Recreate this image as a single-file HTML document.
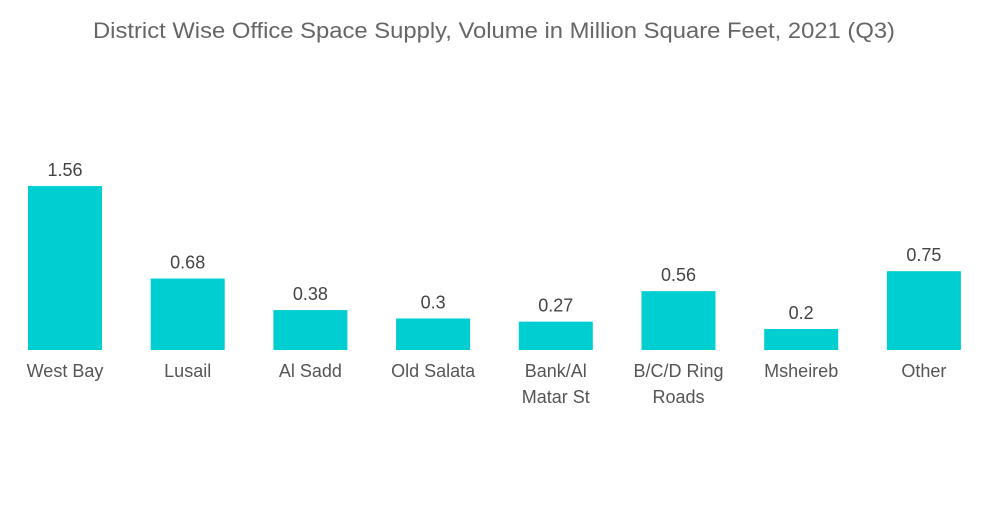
<!DOCTYPE html>
<html><head><meta charset="utf-8"><style>
body{margin:0;background:#fff;width:1000px;height:504px;overflow:hidden;font-family:"Liberation Sans",sans-serif}
</style></head><body>
<svg id="chart" width="1000" height="504" xmlns="http://www.w3.org/2000/svg">
<text x="494" y="38" text-anchor="middle" font-size="22" textLength="802" lengthAdjust="spacingAndGlyphs" fill="#666">District Wise Office Space Supply, Volume in Million Square Feet, 2021 (Q3)</text>
<g id="bars"></g>
</svg>
<script>
const categories=[["West Bay"],["Lusail"],["Al Sadd"],["Old Salata"],["Bank/Al","Matar St"],["B/C/D Ring","Roads"],["Msheireb"],["Other"]];
const values=[1.56,0.68,0.38,0.3,0.27,0.56,0.2,0.75];
const valueLabels=["1.56","0.68","0.38","0.3","0.27","0.56","0.2","0.75"];
const base=350, scale=105.1, x0=28, step=122.7, bw=74;
const yPos=v=>base-v*scale;
const xPos=i=>x0+i*step;
const g=document.getElementById('bars');
const ns="http://www.w3.org/2000/svg";
values.forEach((v,i)=>{
  const r=document.createElementNS(ns,'rect');
  
  
  r.setAttribute('x',xPos(i));r.setAttribute('y',yPos(v));r.setAttribute('width',bw);r.setAttribute('height',base-yPos(v));
  r.setAttribute('fill','#00CED1');g.appendChild(r);
  const t=document.createElementNS(ns,'text');
  
  
  t.setAttribute('x',xPos(i)+bw/2);t.setAttribute('y',yPos(v)-10);t.setAttribute('text-anchor','middle');
  t.setAttribute('font-size','18');t.setAttribute('fill','#444');t.textContent=valueLabels[i];g.appendChild(t);
  categories[i].forEach((line,j)=>{
    const c=document.createElementNS(ns,'text');
    
    
    c.setAttribute('x',xPos(i)+bw/2);c.setAttribute('y',377+j*26);c.setAttribute('text-anchor','middle');
    c.setAttribute('font-size','18');c.setAttribute('fill','#555');c.textContent=line;g.appendChild(c);
  });
});
</script>
</body></html>
